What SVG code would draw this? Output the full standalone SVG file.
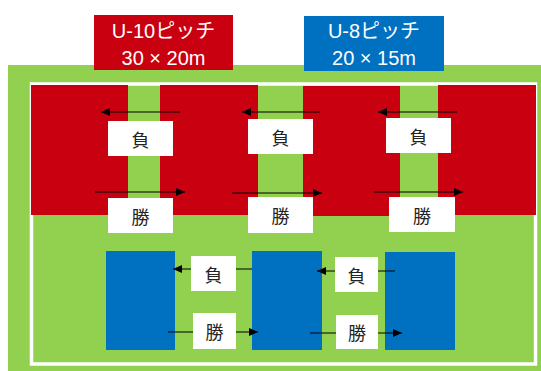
<svg xmlns="http://www.w3.org/2000/svg" width="541" height="371" viewBox="0 0 541 371">
<style>
.red{fill:#C9000F}
.blue{fill:#0070C0}
.lbl{fill:#ffffff}
.hdr{font-family:"Liberation Sans","Noto Sans CJK JP",sans-serif;font-size:20px;fill:#ffffff;text-anchor:middle}
.t{font-family:"Noto Sans CJK JP",sans-serif;font-size:18px;fill:#222222;text-anchor:middle;dominant-baseline:central}
.arr{stroke:#000000;stroke-width:1.2;fill:none;marker-end:url(#ah)}
</style>
<defs>
<marker id="ah" markerUnits="userSpaceOnUse" markerWidth="10" markerHeight="8" refX="9" refY="4" orient="auto">
<path d="M0,0 L9,4 L0,8 z" fill="#000000"/>
</marker>
</defs>
<rect width="541" height="371" fill="#ffffff"/>
<g id="field">
<rect x="8" y="65" width="533" height="306" fill="#92D050"/>
<rect x="31.5" y="84" width="504" height="280" fill="none" stroke="#ffffff" stroke-width="3.5"/>
</g>
<g id="header-u10">
<rect x="94" y="15" width="139" height="55" class="red"/>
<text x="163.5" y="38" class="hdr">U-10ピッチ</text>
<text x="163.5" y="65" class="hdr">30 × 20m</text>
</g>
<g id="header-u8">
<rect x="304" y="16" width="140" height="55" class="blue"/>
<text x="374" y="38" class="hdr">U-8ピッチ</text>
<text x="374" y="65" class="hdr">20 × 15m</text>
</g>
<g id="u10-pitch-1"><rect x="31" y="85" width="97" height="130" class="red"/></g>
<g id="u10-pitch-2"><rect x="160" y="85" width="98" height="130" class="red"/></g>
<g id="u10-pitch-3"><rect x="303" y="86" width="97" height="130" class="red"/></g>
<g id="u10-pitch-4"><rect x="438" y="85" width="98" height="130" class="red"/></g>
<g id="u8-pitch-1"><rect x="106" y="251" width="69" height="99" class="blue"/></g>
<g id="u8-pitch-2"><rect x="252" y="251" width="70" height="99" class="blue"/></g>
<g id="u8-pitch-3"><rect x="385" y="252" width="70" height="98" class="blue"/></g>
<g id="connectors">
<line x1="180" y1="112" x2="101" y2="112" class="arr"/>
<line x1="320" y1="112" x2="242" y2="112" class="arr"/>
<line x1="457" y1="112" x2="378" y2="112" class="arr"/>
<line x1="95" y1="192" x2="185" y2="192" class="arr"/>
<line x1="232" y1="193" x2="322" y2="193" class="arr"/>
<line x1="374" y1="192" x2="463" y2="192" class="arr"/>
<line x1="252" y1="269" x2="173" y2="269" class="arr"/>
<line x1="395" y1="271" x2="317" y2="271" class="arr"/>
<line x1="168" y1="332" x2="258" y2="332" class="arr"/>
<line x1="310" y1="333" x2="402" y2="333" class="arr"/>
</g>
<g id="lose-1"><rect x="108" y="121" width="65" height="35" class="lbl"/><text x="140.5" y="138.5" class="t">負</text></g>
<g id="lose-2"><rect x="248" y="119" width="65" height="35" class="lbl"/><text x="280.5" y="136.5" class="t">負</text></g>
<g id="lose-3"><rect x="386" y="118" width="65" height="35" class="lbl"/><text x="418.5" y="135.5" class="t">負</text></g>
<g id="win-1"><rect x="108" y="198" width="65" height="35" class="lbl"/><text x="140.5" y="215.5" class="t">勝</text></g>
<g id="win-2"><rect x="248" y="197" width="65" height="36" class="lbl"/><text x="280.5" y="215" class="t">勝</text></g>
<g id="win-3"><rect x="389" y="197" width="66" height="35" class="lbl"/><text x="422" y="214.5" class="t">勝</text></g>
<g id="lose-4"><rect x="191" y="256" width="45" height="35" class="lbl"/><text x="213.5" y="273.5" class="t">負</text></g>
<g id="lose-5"><rect x="335" y="257" width="43" height="35" class="lbl"/><text x="356.5" y="274.5" class="t">負</text></g>
<g id="win-4"><rect x="193" y="313" width="43" height="36" class="lbl"/><text x="214.5" y="331" class="t">勝</text></g>
<g id="win-5"><rect x="336" y="315" width="42" height="34" class="lbl"/><text x="357" y="332" class="t">勝</text></g>
</svg>
